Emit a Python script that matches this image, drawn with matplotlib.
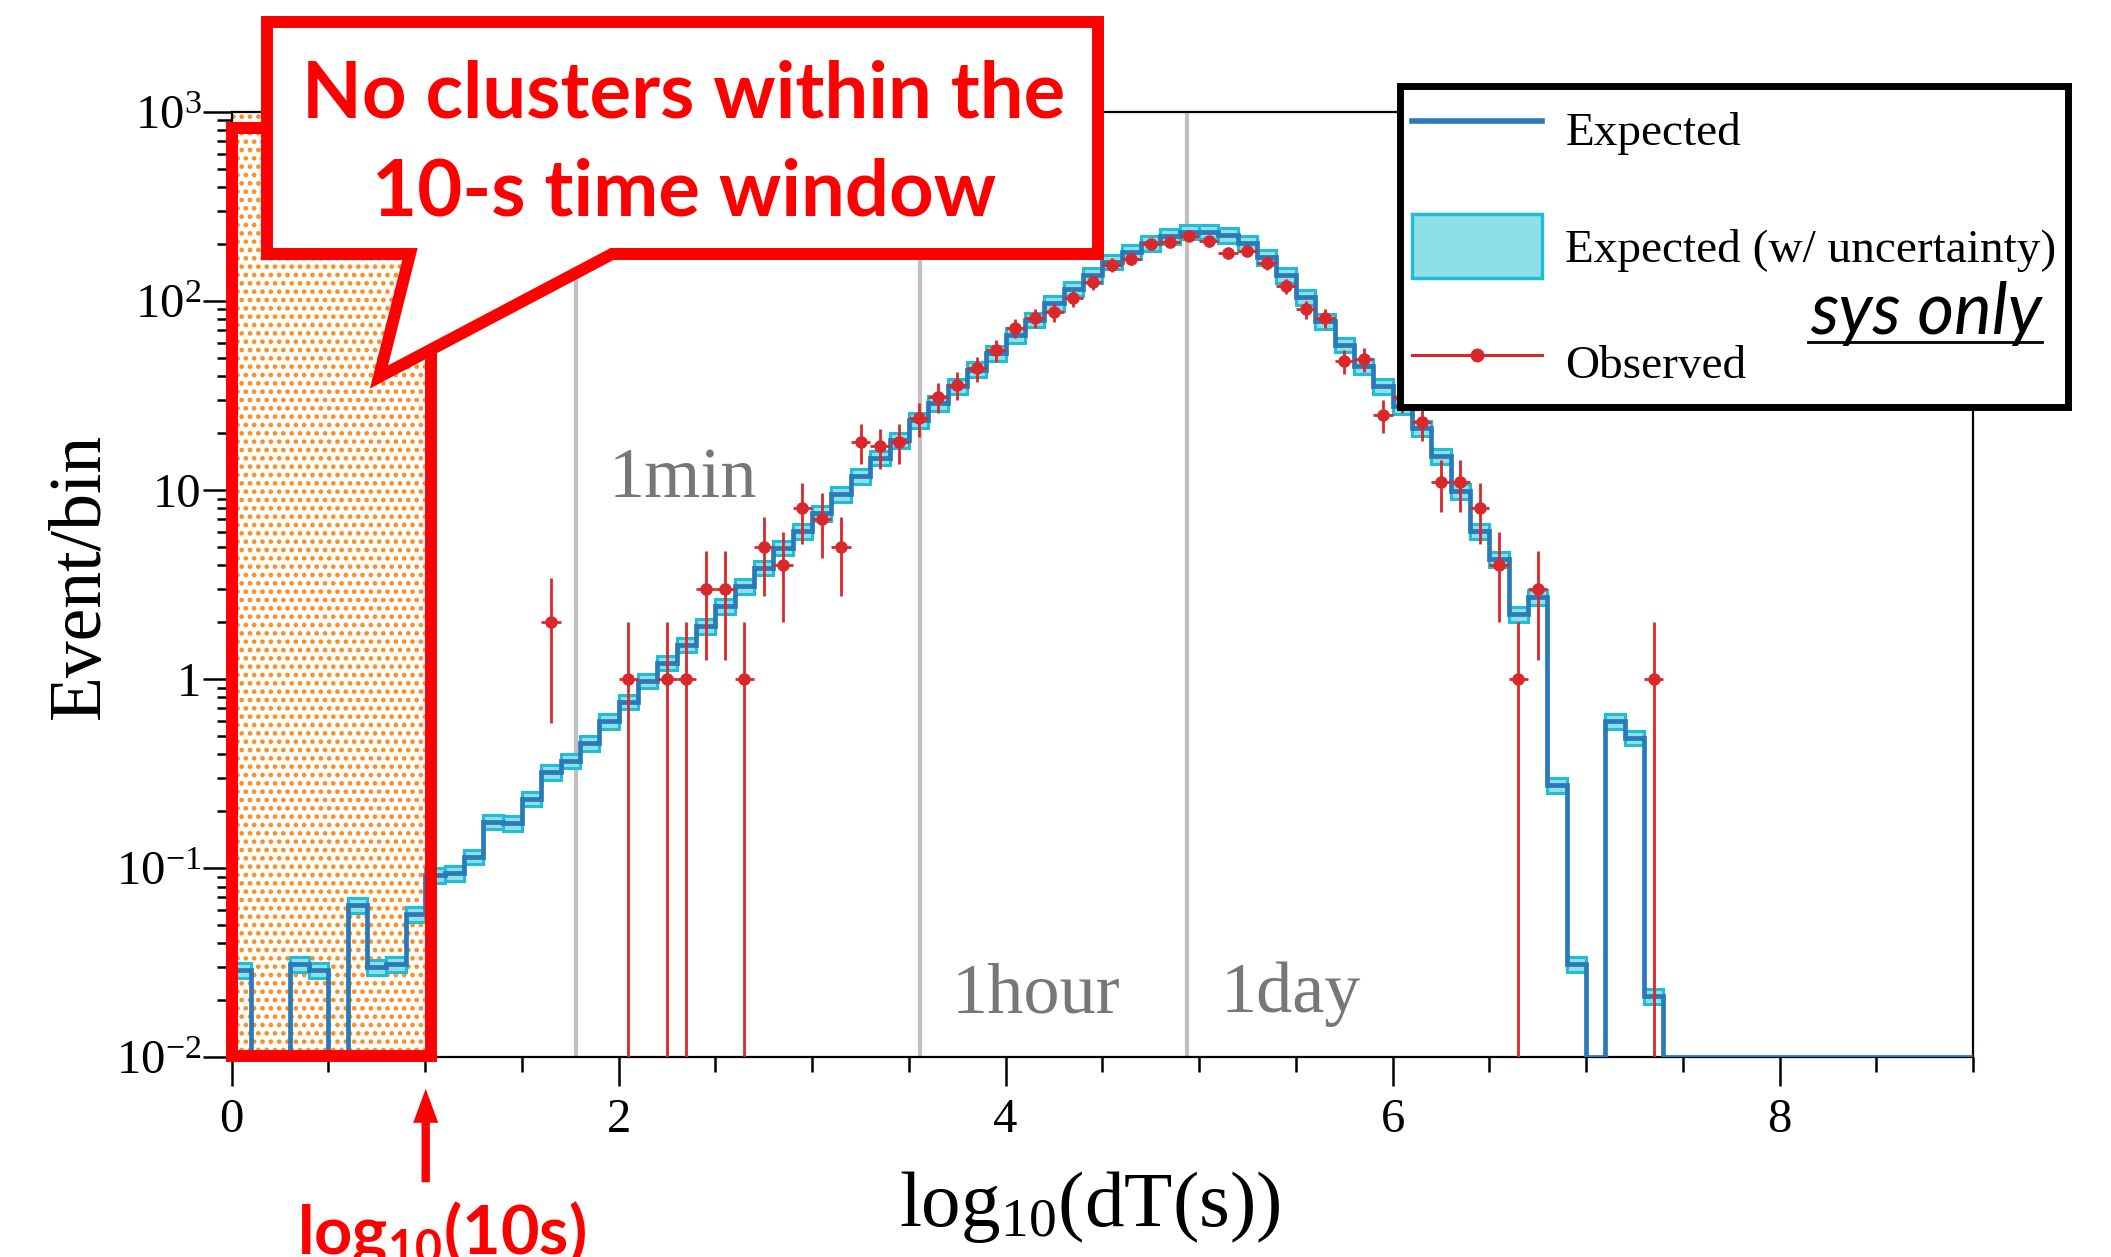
import numpy as np
import matplotlib
matplotlib.use("Agg")
import matplotlib.pyplot as plt
from matplotlib.patches import Rectangle, Polygon, Patch, FancyArrowPatch
from matplotlib.lines import Line2D
from matplotlib.ticker import MultipleLocator, FixedLocator, FixedFormatter, LogLocator, NullFormatter

# ---------------- data ----------------
bin_width = 0.1
n_bins = 90

expected = [
    0.029, 0, 0, 0.031, 0.029, 0, 0.064, 0.030, 0.031, 0.057,
    0.092, 0.094, 0.115, 0.176, 0.173, 0.233, 0.321, 0.37, 0.46, 0.60,
    0.76, 0.98, 1.22, 1.52, 1.90, 2.44, 3.10, 3.88, 4.95, 6.06,
    7.57, 9.46, 11.8, 14.8, 18.4, 23.5, 28.8, 35.3, 43.3, 53.0,
    66.0, 79.5, 97.0, 116, 137, 161, 182, 201, 220, 232,
    232, 223, 201, 171, 137, 105, 77.8, 58.6, 45.0, 35.3,
    27.7, 21.3, 15.1, 9.86, 6.07, 4.30, 2.20, 2.70, 0.274, 0.031,
    0, 0.60, 0.49, 0.021, 0, 0, 0, 0, 0, 0,
    0, 0, 0, 0, 0, 0, 0, 0, 0, 0,
]

observed = [
    0, 0, 0, 0, 0, 0, 0, 0, 0, 0,
    0, 0, 0, 0, 0, 0, 2, 0, 0, 0,
    1, 0, 1, 1, 3, 3, 1, 5, 4, 8,
    7, 5, 18, 17, 18, 24, 31, 36, 44, 55,
    72, 81, 87, 103, 126, 155, 167, 199, 204, 221,
    207, 180, 184, 159, 120, 90, 81, 48, 49, 25,
    31, 23, 11, 11, 8, 4, 1, 3, 0, 0,
    0, 0, 0, 1, 0, 0, 0, 0, 0, 0,
    0, 0, 0, 0, 0, 0, 0, 0, 0, 0,
]

sys_rel = 0.09  # relative systematic uncertainty of the expectation band

time_marks_s = [60, 3600, 86400]
time_labels = ["1min", "1hour", "1day"]

x_ticks = [0, 2, 4, 6, 8]
y_ticks = [1e-2, 1e-1, 1, 10, 1e2, 1e3]
y_ticklabels = [r"$\mathdefault{10^{-2}}$", r"$\mathdefault{10^{-1}}$", "1", "10",
                r"$\mathdefault{10^{2}}$", r"$\mathdefault{10^{3}}$"]

legend_labels = ["Expected", "Expected (w/ uncertainty)", "Observed"]

# ---------------- style ----------------
plt.rcParams["font.family"] = ["Liberation Serif", "DejaVu Serif"]
plt.rcParams["mathtext.fontset"] = "custom"
plt.rcParams["mathtext.rm"] = "Liberation Serif"
plt.rcParams["mathtext.it"] = "Liberation Serif:italic"
plt.rcParams["mathtext.bf"] = "Liberation Serif:bold"
plt.rcParams["mathtext.sf"] = "Lato:bold"
plt.rcParams["hatch.linewidth"] = 2.1

DARK = "#2a79b8"
BAND_FACE = "#8edfe8"
BAND_EDGE = "#20bdd4"
OBS = "#d9282b"
RED = "#ff0000"
GRAY_LINE = "#c0c0c0"
GRAY_TEXT = "#777777"
ORANGE = "#ff8c1a"

W, H = 2111, 1257
fig = plt.figure(figsize=(W / 100, H / 100), dpi=100)


def fx(px):
    return px / W


def fy(py):
    return 1 - py / H


ax_l, ax_r, ax_t, ax_b = 231.7, 1973.0, 111.7, 1057.3
ax = fig.add_axes([fx(ax_l), fy(ax_b), fx(ax_r) - fx(ax_l), fy(ax_t) - fy(ax_b)])

y_min, y_max = 1e-2, 1e3
ax.set_yscale("log")
ax.set_xlim(0, 9)
ax.set_ylim(y_min, y_max)

exp_arr = np.array(expected, dtype=float)
obs_arr = np.array(observed, dtype=float)
edges = np.round(np.arange(n_bins + 1) * bin_width, 3)
centers = 0.5 * (edges[:-1] + edges[1:])

# orange "no clusters" region
ax.add_patch(Rectangle((0, y_min), 1.0, y_max - y_min, facecolor="white",
                       edgecolor=ORANGE, hatch="..", lw=0, zorder=0.5))

# time marker lines and labels
for t in time_marks_s:
    ax.axvline(np.log10(t), color=GRAY_LINE, lw=3, zorder=1)
ax.text(1.95, 9.2, time_labels[0], color=GRAY_TEXT, fontsize=52, va="baseline", ha="left", zorder=1.5)
ax.text(3.72, 0.0173, time_labels[1], color=GRAY_TEXT, fontsize=52, va="baseline", ha="left", zorder=1.5)
ax.text(5.11, 0.0173, time_labels[2], color=GRAY_TEXT, fontsize=52, va="baseline", ha="left", zorder=1.5)

# uncertainty band
m = exp_arr > 0
ax.bar(centers[m], 2 * sys_rel * exp_arr[m], bottom=exp_arr[m] * (1 - sys_rel), width=bin_width,
       facecolor=BAND_FACE, edgecolor=BAND_EDGE, lw=2.2, zorder=2)

# expected histogram
exp_draw = np.where(exp_arr > 0, exp_arr, y_min)
ax.stairs(exp_draw, edges, baseline=None, color=DARK, lw=3.4, zorder=3)

# observed
mo = obs_arr > 0
n = obs_arr[mo]
err = np.sqrt(n)
lower = np.where(n - err <= 0, n - 1e-5, err)
ax.errorbar(centers[mo], n, yerr=[lower, err], xerr=bin_width / 2, fmt="o", color=OBS,
            ms=8, elinewidth=2.0, capsize=0, zorder=4)

# ticks
ax.xaxis.set_major_locator(FixedLocator(x_ticks))
ax.xaxis.set_minor_locator(MultipleLocator(0.5))
ax.yaxis.set_major_locator(FixedLocator(y_ticks))
ax.yaxis.set_major_formatter(FixedFormatter(y_ticklabels))
ax.yaxis.set_minor_locator(LogLocator(base=10, subs=np.arange(2, 10), numticks=20))
ax.yaxis.set_minor_formatter(NullFormatter())
ax.tick_params(axis="both", which="major", direction="out", length=21, width=1.8, labelsize=35)
ax.tick_params(axis="both", which="minor", direction="out", length=11, width=1.8)
ax.tick_params(axis="x", which="major", pad=8)
ax.tick_params(axis="y", which="major", pad=1)
for s in ax.spines.values():
    s.set_linewidth(1.6)

ax.set_xlabel(r"$\mathrm{log_{10}(dT(s))}$", fontsize=57)
ax.xaxis.set_label_coords(0.493, -0.118)
ax.set_ylabel("Event/bin", fontsize=53)
ax.yaxis.set_label_coords(-0.067, 0.509)

# red frame around the region
fig.add_artist(Rectangle((fx(231.5), fy(1056)), fx(431) - fx(231.5), fy(128) - fy(1056),
                         transform=fig.transFigure, fill=False, edgecolor=RED, lw=8.6,
                         joinstyle="miter", zorder=2))

# callout
callout = [(267, 22), (1098, 22), (1098, 254), (612, 254), (379, 377), (410, 254), (267, 254)]
fig.add_artist(Polygon([(fx(a), fy(b)) for a, b in callout], closed=True, transform=fig.transFigure,
                       facecolor="white", edgecolor=RED, lw=8.6, joinstyle="miter", zorder=3))
fig.text(fx(684), fy(117), "No clusters within the", ha="center", va="baseline", fontsize=56,
         family="Lato", weight="bold", color=RED, zorder=4)
fig.text(fx(684), fy(216), "10-s time window", ha="center", va="baseline", fontsize=56,
         family="Lato", weight="bold", color=RED, zorder=4)

# arrow and label at log10(10 s)
fig.add_artist(FancyArrowPatch((fx(425.7), fy(1185)), (fx(425.7), fy(1086)), transform=fig.transFigure,
                               arrowstyle="simple,head_length=2.45,head_width=1.8,tail_width=0.6",
                               mutation_scale=10, facecolor=RED, edgecolor="none", zorder=4))
fig.text(fx(442), fy(1254), r"$\mathsf{log_{10}(10s)}$", ha="center", va="baseline", fontsize=48,
         color=RED, zorder=4)

# legend
handles = [Line2D([], [], color=DARK, lw=4),
           Patch(facecolor=BAND_FACE, edgecolor=BAND_EDGE, lw=2.5),
           Line2D([], [], color=OBS, lw=2.2, marker="o", ms=9)]
leg = fig.legend(handles, legend_labels, loc="upper left", bbox_to_anchor=(fx(1400), fy(86)),
                 bbox_transform=fig.transFigure, fontsize=34, frameon=True, fancybox=False,
                 edgecolor="black", framealpha=1, borderpad=0.25, labelspacing=1.12,
                 handlelength=2.75, handleheight=1.7, handletextpad=0.5, borderaxespad=0)
leg.get_frame().set_linewidth(5)
leg.set_zorder(5)

fig.text(fx(2042), fy(334), "sys only", ha="right", va="baseline", fontsize=51, family="Lato",
         style="italic", color="black", zorder=6)
fig.add_artist(Line2D([fx(1808), fx(2042)], [fy(342), fy(342)], transform=fig.transFigure,
                      color="black", lw=2, zorder=6))

fig.savefig("out.png", dpi=100)
